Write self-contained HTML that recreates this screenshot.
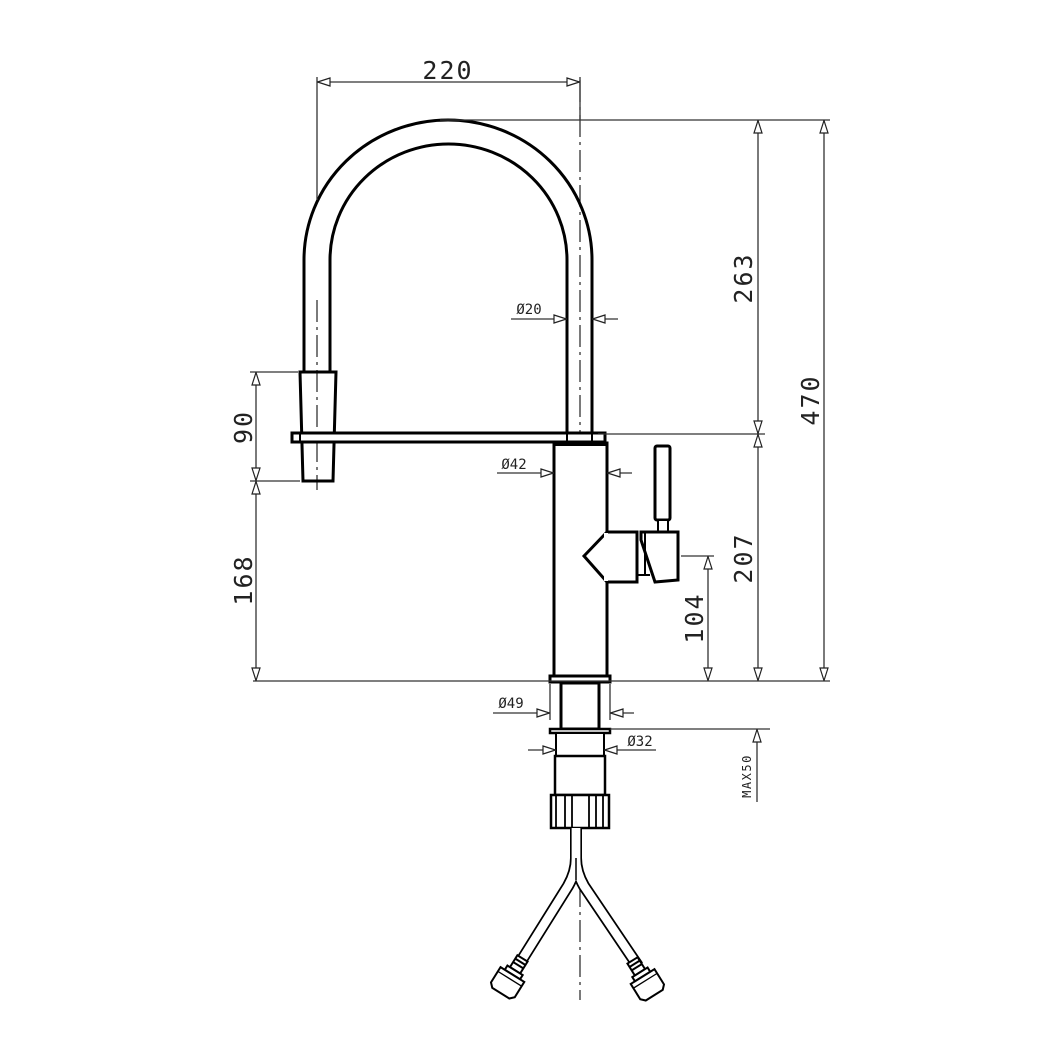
<!DOCTYPE html>
<html><head><meta charset="utf-8"><style>
html,body{margin:0;padding:0;background:#fff;}
svg{display:block}
text{font-family:"DejaVu Sans Mono","Liberation Mono",monospace;fill:#222;}
</style></head><body>
<svg width="1063" height="1063" viewBox="0 0 1063 1063" xmlns="http://www.w3.org/2000/svg">
<defs>
<marker id="a" viewBox="0 0 14 10" refX="14" refY="5" markerWidth="14" markerHeight="10" markerUnits="userSpaceOnUse" orient="auto-start-reverse">
<path d="M1 1 L13.5 5 L1 9 Z" fill="#fff" stroke="#222" stroke-width="1.2"/>
</marker>
</defs>
<rect width="1063" height="1063" fill="#fff"/>

<g stroke="#222" stroke-width="1.2" stroke-dasharray="22 5 3 5" fill="none">
<line x1="580" y1="80" x2="580" y2="1000"/>
<line x1="317" y1="300" x2="317" y2="490"/>
</g>

<g fill="none" stroke="#000" stroke-width="3">
<path d="M304 372 L304 260 A144 140 0 0 1 592 260 L592 433"/>
<path d="M330 372 L330 260 A118.5 116 0 0 1 567 260 L567 433"/>
</g>
<path d="M300 372 L336 372 L333 481 L303 481 Z" fill="none" stroke="#000" stroke-width="3"/>
<rect x="292" y="433" width="313" height="9" fill="#fff" stroke="#000" stroke-width="3"/>
<line x1="300" y1="433" x2="300" y2="442" stroke="#000" stroke-width="2"/>
<line x1="567" y1="433" x2="567" y2="442" stroke="#000" stroke-width="2"/>
<line x1="592" y1="433" x2="592" y2="442" stroke="#000" stroke-width="2"/>

<g fill="#fff" stroke="#000" stroke-width="3">
<rect x="554" y="443" width="53" height="234"/>
<line x1="553" y1="444" x2="608" y2="444" stroke-width="4"/>
<path d="M607 532 L637 532 L637 582 L607 582 L584 556 Z"/>
<line x1="606" y1="533" x2="606" y2="581" stroke="#fff" stroke-width="4"/>
<path d="M637 575 L650 575" stroke-width="2"/>
<rect x="655" y="446" width="15" height="74" rx="2"/>
<rect x="658" y="520" width="10" height="12" stroke-width="2"/>
<path d="M641 532 L678 532 L678 580 L655 582 L641 540 Z"/>
<line x1="645" y1="532" x2="645" y2="576" stroke-width="2"/>
<rect x="550" y="676" width="60" height="6" stroke-width="3"/>
<rect x="561" y="683" width="38" height="46"/>
<rect x="550" y="729" width="60" height="4" stroke-width="2.5"/>
<rect x="556" y="733" width="48" height="23" stroke-width="2"/>
<rect x="555" y="756" width="50" height="39" stroke-width="2.5"/>
<rect x="551" y="795" width="58" height="33" stroke-width="2.5"/>
</g>
<g stroke="#000" stroke-width="1.8">
<line x1="556" y1="795" x2="556" y2="828"/>
<line x1="565" y1="795" x2="565" y2="828"/>
<line x1="572" y1="795" x2="572" y2="828"/>
<line x1="589" y1="795" x2="589" y2="828"/>
<line x1="596" y1="795" x2="596" y2="828"/>
<line x1="603" y1="795" x2="603" y2="828"/>
</g>

<g fill="none" stroke-linejoin="round">
<path d="M576 828 L576 858 Q576 872 568 886 L518 966" stroke="#000" stroke-width="12"/>
<path d="M576 828 L576 858 Q576 872 584 886 L638 966" stroke="#000" stroke-width="12"/>
<path d="M576 828 L576 858 Q576 872 568 886 L518 966" stroke="#fff" stroke-width="8.5"/>
<path d="M576 828 L576 858 Q576 872 584 886 L638 966" stroke="#fff" stroke-width="8.5"/>
</g>
<line x1="576" y1="858" x2="576" y2="880" stroke="#000" stroke-width="1.5"/>
<g fill="#fff" stroke="#000" stroke-width="2">
<g transform="translate(514,972) rotate(32)">
<rect x="-6" y="-16" width="12" height="14"/>
<line x1="-6" y1="-12" x2="6" y2="-12"/>
<line x1="-6" y1="-8" x2="6" y2="-8"/>
<rect x="-9" y="-2" width="18" height="5"/>
<path d="M-14 3 L14 3 L14 21 L10 25 L-10 25 L-14 21 Z"/>
<line x1="-14" y1="8" x2="14" y2="8" stroke-width="1.3"/>
</g>
<g transform="translate(641,974) rotate(-32)">
<rect x="-6" y="-16" width="12" height="14"/>
<line x1="-6" y1="-12" x2="6" y2="-12"/>
<line x1="-6" y1="-8" x2="6" y2="-8"/>
<rect x="-9" y="-2" width="18" height="5"/>
<path d="M-14 3 L14 3 L14 21 L10 25 L-10 25 L-14 21 Z"/>
<line x1="-14" y1="8" x2="14" y2="8" stroke-width="1.3"/>
</g>
</g>

<g stroke="#333" stroke-width="1.3" fill="none">
<line x1="317" y1="77" x2="317" y2="200"/>
<line x1="580" y1="77" x2="580" y2="120"/>
<line x1="317" y1="82" x2="580" y2="82" marker-start="url(#a)" marker-end="url(#a)"/>
<line x1="440" y1="120" x2="830" y2="120"/>
<line x1="598" y1="434" x2="765" y2="434"/>
<line x1="253" y1="681" x2="830" y2="681"/>
<line x1="681" y1="556" x2="714" y2="556"/>
<line x1="610" y1="729" x2="770" y2="729"/>
<line x1="758" y1="120" x2="758" y2="434" marker-start="url(#a)" marker-end="url(#a)"/>
<line x1="758" y1="434" x2="758" y2="681" marker-start="url(#a)" marker-end="url(#a)"/>
<line x1="824" y1="120" x2="824" y2="681" marker-start="url(#a)" marker-end="url(#a)"/>
<line x1="708" y1="556" x2="708" y2="681" marker-start="url(#a)" marker-end="url(#a)"/>
<line x1="757" y1="802" x2="757" y2="729" marker-end="url(#a)"/>
<line x1="250" y1="372" x2="298" y2="372"/>
<line x1="250" y1="481" x2="300" y2="481"/>
<line x1="256" y1="372" x2="256" y2="481" marker-start="url(#a)" marker-end="url(#a)"/>
<line x1="256" y1="481" x2="256" y2="681" marker-start="url(#a)" marker-end="url(#a)"/>
<line x1="511" y1="319" x2="567" y2="319" marker-end="url(#a)"/>
<line x1="618" y1="319" x2="592" y2="319" marker-end="url(#a)"/>
<line x1="497" y1="473" x2="554" y2="473" marker-end="url(#a)"/>
<line x1="632" y1="473" x2="607" y2="473" marker-end="url(#a)"/>
<line x1="550" y1="684" x2="550" y2="720"/>
<line x1="610" y1="684" x2="610" y2="720"/>
<line x1="493" y1="713" x2="550" y2="713" marker-end="url(#a)"/>
<line x1="634" y1="713" x2="610" y2="713" marker-end="url(#a)"/>
<line x1="528" y1="750" x2="556" y2="750" marker-end="url(#a)"/>
<line x1="656" y1="750" x2="604" y2="750" marker-end="url(#a)"/>
</g>

<text x="448" y="79" font-size="25" text-anchor="middle" letter-spacing="2">220</text>
<text x="529" y="314" font-size="14" text-anchor="middle">Ø20</text>
<text x="514" y="469" font-size="14" text-anchor="middle">Ø42</text>
<text x="511" y="708" font-size="14" text-anchor="middle">Ø49</text>
<text x="640" y="746" font-size="14" text-anchor="middle">Ø32</text>
<text transform="translate(752,278) rotate(-90)" font-size="25" text-anchor="middle" letter-spacing="2">263</text>
<text transform="translate(819,400) rotate(-90)" font-size="25" text-anchor="middle" letter-spacing="2">470</text>
<text transform="translate(752,558) rotate(-90)" font-size="25" text-anchor="middle" letter-spacing="2">207</text>
<text transform="translate(703,618) rotate(-90)" font-size="25" text-anchor="middle" letter-spacing="2">104</text>
<text transform="translate(252,427) rotate(-90)" font-size="25" text-anchor="middle" letter-spacing="2">90</text>
<text transform="translate(252,580) rotate(-90)" font-size="25" text-anchor="middle" letter-spacing="2">168</text>
<text transform="translate(751,776) rotate(-90)" font-size="12" text-anchor="middle" letter-spacing="1.5">MAX50</text>
</svg>
</body></html>
